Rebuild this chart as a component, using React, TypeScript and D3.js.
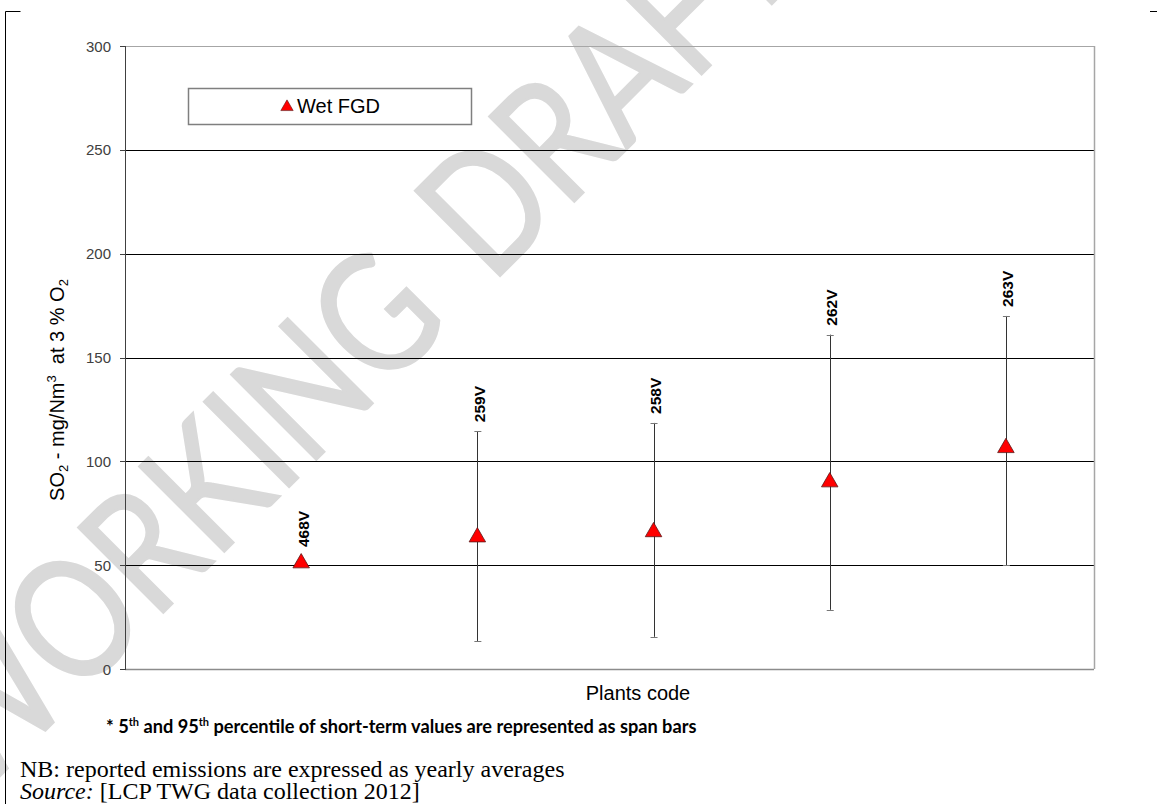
import React from "react";
import * as d3 from "d3";

const codes = ["468V", "259V", "258V", "262V", "263V"];
const averages = [51, 63.5, 66, 90, 106.5];
const p95 = [NaN, 114.5, 118.5, 161, 170];
const p5 = [NaN, 13.5, 15.5, 28.5, 50];
const yTicks = [0, 50, 100, 150, 200, 250, 300];
const seriesName = "Wet FGD";

const W = 1157;
const H = 804;
const left = 125, right = 1094, top = 46, bottom = 669;

export default function App() {
  const x = d3.scaleLinear().domain([0, 5.5]).range([left, right]);
  const y = d3.scaleLinear().domain([0, 300]).range([bottom, top]);
  const tri = d3.symbol(d3.symbolTriangle).size(118)();
  const triSmall = d3.symbol(d3.symbolTriangle).size(66)();
  const font = "Arial, 'Liberation Sans', sans-serif";
  const wmFont = "Lato, 'Open Sans', sans-serif";

  return (
    <svg width={W} height={H} style={{ position: "absolute", left: 0, top: 0, background: "#fff" }}>
      <rect x={0} y={0} width={W} height={H} fill="#fff" />
      {/* watermark */}
      <text
        transform="translate(-24,800) rotate(-45) scale(0.92,1.12)"
        fill="#d9d9d9" stroke="#d9d9d9" strokeWidth={2}
        fontFamily={wmFont} fontSize={150}
        style={{ wordSpacing: "20px" }}
      >
        WORKING DRAFT
      </text>
      {/* page bracket lines */}
      <path d="M20.5,11.5 H5.5 V804" fill="none" stroke="#000" strokeWidth={1} />
      <path d="M1150,11.5 H1157" fill="none" stroke="#000" strokeWidth={1} />

      {/* gridlines */}
      {yTicks.filter(t => t > 0 && t < 300).map(t => (
        <line key={t} x1={left} x2={right} y1={Math.round(y(t)) + 0.5} y2={Math.round(y(t)) + 0.5} stroke="#000" strokeWidth={1} />
      ))}
      {/* plot border */}
      <line x1={left} x2={right} y1={top + 0.5} y2={top + 0.5} stroke="#a6a6a6" strokeWidth={1} />
      <line x1={right + 0.5} x2={right + 0.5} y1={top} y2={bottom} stroke="#a6a6a6" strokeWidth={1.5} />
      <line x1={left} x2={right} y1={bottom + 0.5} y2={bottom + 0.5} stroke="#8c8c8c" strokeWidth={1.5} />
      {/* y axis */}
      <line x1={left + 0.5} x2={left + 0.5} y1={top} y2={bottom + 1} stroke="#404040" strokeWidth={1} />
      {yTicks.map(t => (
        <g key={t}>
          <line x1={left - 5} x2={left} y1={Math.round(y(t)) + 0.5} y2={Math.round(y(t)) + 0.5} stroke="#404040" />
          <text x={111} y={y(t)} textAnchor="end" dominantBaseline="central" fontFamily={font} fontSize={15} fill="#404040">{t}</text>
        </g>
      ))}

      {/* error bars */}
      {codes.map((c, i) => isNaN(p95[i]) ? null : (
        <g key={c} stroke="#333">
          <line x1={Math.round(x(i + 1)) + 0.5} x2={Math.round(x(i + 1)) + 0.5} y1={y(p95[i])} y2={y(p5[i])} strokeWidth={1} />
          <line x1={x(i + 1) - 3} x2={x(i + 1) + 4} y1={Math.round(y(p95[i])) + 0.5} y2={Math.round(y(p95[i])) + 0.5} stroke="#777" />
          <line x1={x(i + 1) - 3} x2={x(i + 1) + 4} y1={Math.round(y(p5[i])) + 0.5} y2={Math.round(y(p5[i])) + 0.5} stroke="#777" />
        </g>
      ))}
      {/* markers */}
      {codes.map((c, i) => (
        <path key={c} d={tri} transform={`translate(${x(i + 1)},${y(averages[i])})`} fill="#ff0000" stroke="#5a1a1a" strokeWidth={0.8} />
      ))}
      {/* labels */}
      {codes.map((c, i) => {
        const base = isNaN(p95[i]) ? y(averages[i]) - 16 : y(p95[i]) - 9;
        return (
          <text key={c} transform={`translate(${x(i + 1) + 2},${base}) rotate(-90)`} textAnchor="start" dominantBaseline="central"
            fontFamily={font} fontSize={15.5} fontWeight="bold" fill="#000">{c}</text>
        );
      })}

      {/* legend */}
      <rect x={188.5} y={88.5} width={283} height={36} fill="#fff" stroke="#7f7f7f" strokeWidth={1.5} />
      <path d={triSmall} transform="translate(287,107)" fill="#ff0000" stroke="#5a1a1a" strokeWidth={0.6} />
      <text x={297} y={106} dominantBaseline="central" fontFamily={font} fontSize={20} fill="#000">{seriesName}</text>

      {/* axis titles */}
      <text x={638} y={693} textAnchor="middle" dominantBaseline="central" fontFamily={font} fontSize={20} fill="#000">Plants code</text>
      <text transform="translate(64,390) rotate(-90)" textAnchor="middle" fontFamily={font} fontSize={20} fill="#000">
        SO<tspan fontSize={13} dy={4}>2</tspan><tspan dy={-4}> - mg/Nm</tspan><tspan fontSize={13} dy={-8}>3</tspan><tspan dy={8}>{"\u00a0 at 3 % O"}</tspan><tspan fontSize={13} dy={4}>2</tspan>
      </text>

      {/* footnotes */}
      <text x={106} y={733} fontFamily={wmFont} fontWeight="bold" fontSize={18.2} fill="#000">
        * 5<tspan fontSize={11} dy={-7}>th</tspan><tspan dy={7}> and 95</tspan><tspan fontSize={11} dy={-7}>th</tspan><tspan dy={7}> percentile of short-term values are represented as span bars</tspan>
      </text>
      <text x={20} y={777} fontFamily="'Liberation Serif', 'Times New Roman', serif" fontSize={24} fill="#000">NB: reported emissions are expressed as yearly averages</text>
      <text x={20} y={799} fontFamily="'Liberation Serif', 'Times New Roman', serif" fontSize={24} fill="#000">
        <tspan fontStyle="italic">Source:</tspan> [LCP TWG data collection 2012]
      </text>
    </svg>
  );
}
